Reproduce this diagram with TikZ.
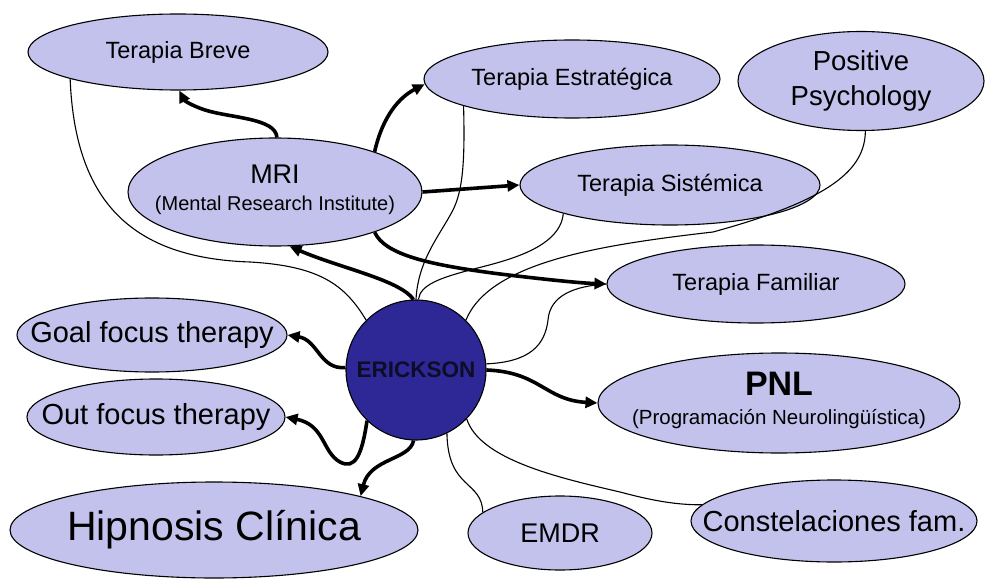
\documentclass[tikz,border=0pt]{standalone}
\usepackage{fontspec}
\setmainfont{Liberation Sans}
\usetikzlibrary{shapes.geometric,arrows.meta}
\definecolor{lav}{RGB}{194,194,236}
\definecolor{eriblue}{RGB}{45,40,150}
\definecolor{eritext}{RGB}{15,12,40}
\newcommand\zbox[1]{\makebox[0pt][c]{#1}}
\begin{document}
\begin{tikzpicture}[x=1pt,y=-1pt,
  bub/.style={ellipse,draw=black,line width=1.1pt,fill=lav,inner sep=0pt,text=black},
  bigarrow/.style={line width=3.6pt,-{Triangle[length=12pt,width=11pt]}},
  thinlink/.style={line width=1.1pt}]
\useasboundingbox (0,0) rectangle (985,580);
\fill[white] (0,0) rectangle (985,580);

% nodes
\node[bub,minimum width=300pt,minimum height=76pt,font=\fontsize{23.5}{27}\selectfont] (breve) at (178,52) {\zbox{Terapia Breve}};
\node[bub,minimum width=296pt,minimum height=78pt,font=\fontsize{23.5}{27}\selectfont] (estr) at (572,79) {\zbox{Terapia Estratégica}};
\node[bub,minimum width=246pt,minimum height=92pt,font=\fontsize{27.5}{35}\selectfont] (pos) at (861,81) {\zbox{\begin{tabular}{@{}c@{}}Positive\\Psychology\end{tabular}}};
\node[bub,minimum width=294pt,minimum height=108pt,font=\fontsize{20}{27}\selectfont] (mri) at (275,192) {\zbox{\begin{tabular}{@{}c@{}}{\fontsize{27}{29}\selectfont MRI}\\(Mental Research Institute)\end{tabular}}};
\node[bub,minimum width=300pt,minimum height=80pt,font=\fontsize{23.5}{27}\selectfont] (sist) at (670,185) {\zbox{Terapia Sistémica}};
\node[bub,minimum width=298pt,minimum height=78pt,font=\fontsize{23.5}{27}\selectfont] (fam) at (756,284) {\zbox{Terapia Familiar}};
\node[bub,minimum width=270pt,minimum height=74pt,font=\fontsize{29}{33}\selectfont] (goal) at (152,335) {\zbox{Goal focus therapy}};
\node[bub,minimum width=258pt,minimum height=76pt,font=\fontsize{29}{33}\selectfont] (out) at (156,417) {\zbox{Out focus therapy}};
\node[bub,minimum width=408pt,minimum height=96pt,font=\fontsize{41}{45}\selectfont] (hip) at (214,530) {\zbox{Hipnosis Clínica}};
\node[bub,minimum width=362pt,minimum height=100pt,font=\fontsize{20.5}{29}\selectfont] (pnl) at (779,403) {\zbox{\begin{tabular}{@{}c@{}}{\fontsize{34}{36}\selectfont\bfseries PNL}\\(Programación Neurolingüística)\end{tabular}}};
\node[bub,minimum width=184pt,minimum height=74pt,font=\fontsize{27}{30}\selectfont] (emdr) at (560,533) {\zbox{EMDR}};
\node[bub,minimum width=286pt,minimum height=82pt,font=\fontsize{29}{33}\selectfont] (const) at (834,521) {\zbox{Constelaciones fam.}};
\node[circle,draw=black,line width=1.1pt,fill=eriblue,minimum size=140pt,inner sep=0pt,text=eritext,font=\fontsize{22.5}{26}\selectfont\bfseries] (eri) at (416,370) {ERICKSON};

% thin links
\draw[thinlink] (breve.194) .. controls (75,200) and (130,258) .. (250,262) .. controls (320,266) and (345,285) .. (eri.135);
\draw[thinlink] (estr.194) .. controls (465,160) and (463,190) .. (453,210) .. controls (440,235) and (418,260) .. (eri.90);
\draw[thinlink] (sist.195) .. controls (560,250) and (500,262) .. (470,270) .. controls (440,278) and (420,285) .. (eri.88);
\draw[thinlink] (pos.275) .. controls (865,170) and (830,200) .. (713,232) .. controls (600,245) and (490,262) .. (eri.45);
\draw[thinlink] (eri.5) .. controls (530,362) and (545,345) .. (548,320) .. controls (550,295) and (575,286) .. (fam.180);
\draw[thinlink] (eri.296) .. controls (448,490) and (482,480) .. (emdr.165);
\draw[thinlink] (eri.316) .. controls (480,460) and (560,478) .. (620,492) .. controls (650,500) and (675,505) .. (const.173);

% thick arrows
\draw[bigarrow] (mri.88) .. controls (276,118) and (230,118) .. (205,110) .. controls (190,105) and (184,100) .. (breve.272);
\draw[bigarrow] (mri.22) .. controls (383,115) and (400,97) .. (estr.182);
\draw[bigarrow] (mri.0) -- (sist.180);
\draw[bigarrow] (mri.-22) .. controls (385,255) and (430,265) .. (500,274) .. controls (550,280) and (580,283) .. (fam.180);
\draw[bigarrow] (eri.92) .. controls (400,280) and (340,268) .. (mri.285);
\draw[bigarrow] (eri.178) .. controls (320,370) and (318,340) .. (goal.0);
\draw[bigarrow] (eri.226) .. controls (362,455) and (355,470) .. (340,462) .. controls (322,452) and (325,425) .. (out.0);
\draw[bigarrow] (eri.268) .. controls (410,460) and (370,458) .. (hip.13);
\draw[bigarrow] (eri.0) .. controls (540,372) and (545,400) .. (pnl.180);
\end{tikzpicture}
\end{document}
